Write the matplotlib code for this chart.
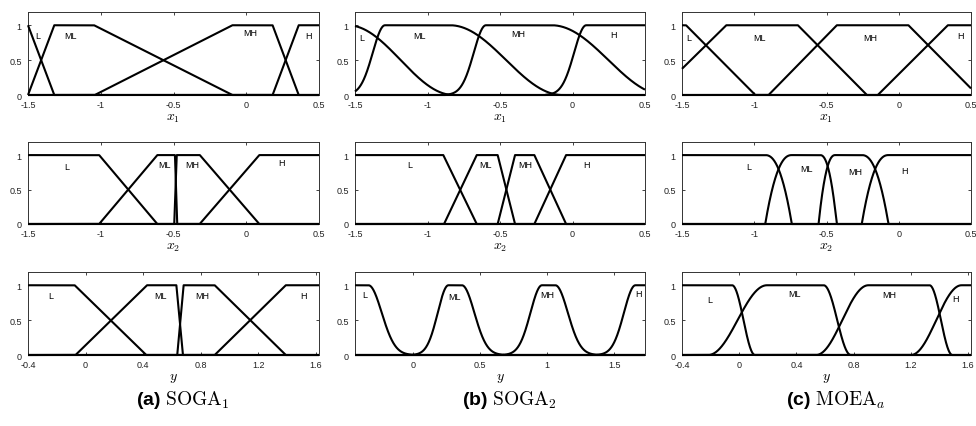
import numpy as np
import matplotlib
matplotlib.use("Agg")
import matplotlib.pyplot as plt

plt.rcParams["mathtext.fontset"] = "cm"
plt.rcParams["font.family"] = ["Liberation Sans", "DejaVu Sans"]

# Linguistic terms of every fuzzy partition
terms = ["L", "ML", "MH", "H"]

# Membership function breakpoints (a, b, c, d)
soga1_x1 = [(-10, -9, -1.5, -1.32), (-1.5, -1.32, -1.046, -0.096),
            (-1.041, -0.096, 0.181, 0.36), (0.181, 0.36, 9, 10)]
soga1_x2 = [(-10, -9, -1.011, -0.612), (-1.011, -0.612, -0.49, -0.475),
            (-0.495, -0.478, -0.319, 0.089), (-0.32, 0.089, 9, 10)]
soga1_y = [(-10, -9, -0.076, 0.42), (-0.07, 0.426, 0.63, 0.675),
           (0.636, 0.68, 0.896, 1.389), (0.896, 1.389, 9, 10)]

soga2_x1 = [(-10, -9, -1.55, -0.82), (-1.575, -1.293, -0.845, -0.07),
            (-0.877, -0.597, -0.144, 0.64), (-0.185, 0.095, 9, 10)]
soga2_x2 = [(-10, -9, -0.891, -0.661), (-0.886, -0.661, -0.516, -0.397),
            (-0.516, -0.397, -0.263, -0.045), (-0.263, -0.045, 9, 10)]
soga2_y = [(-10, -9, -0.33, 0.0), (0.0, 0.266, 0.366, 0.676),
           (0.676, 0.963, 1.062, 1.373), (1.373, 1.659, 9, 10)]

moea_x1 = [(-10, -9, -1.472, -0.993), (-1.684, -1.194, -0.698, -0.221),
           (-0.901, -0.429, 0.067, 0.545), (-0.145, 0.339, 9, 10)]
moea_x2 = [(-10, -9, -0.924, -0.740), (-0.924, -0.740, -0.544, -0.429),
           (-0.555, -0.440, -0.256, -0.071), (-0.256, -0.071, 9, 10)]
moea_y = [(-10, -9, -0.05, 0.11), (-0.217, 0.194, 0.59, 0.78),
          (0.537, 0.903, 1.33, 1.49), (1.2, 1.554, 9, 10)]

# Axis ticks
x_ticks = [-1.5, -1, -0.5, 0, 0.5]
x_ticklabels = ["-1.5", "-1", "-0.5", "0", "0.5"]
y04_ticks = [-0.4, 0, 0.4, 0.8, 1.2, 1.6]
y04_ticklabels = ["-0.4", "0", "0.4", "0.8", "1.2", "1.6"]
y05_ticks = [0, 0.5, 1, 1.5]
y05_ticklabels = ["0", "0.5", "1", "1.5"]
mu_ticks = [0, 0.5, 1]
mu_ticklabels = ["0", "0.5", "1"]

captions = [r"(a) $\mathrm{SOGA}_1$", r"(b) $\mathrm{SOGA}_2$", r"(c) $\mathrm{MOEA}_a$"]


def edge(t, kind):
    t = np.clip(t, 0, 1)
    if kind == "lin":
        return t
    if kind == "cos":
        return 0.5 * (1 - np.cos(np.pi * t))
    if kind == "gauss":
        return np.exp(-0.5 * ((1 - t) / 0.3) ** 2)
    return 1 - (1 - t) ** 2.3


def membership(x, p, rise, fall):
    a, b, c, d = p
    y = np.ones_like(x)
    y = np.where(x < b, edge((x - a) / (b - a), rise), y)
    y = np.where(x > c, edge((d - x) / (d - c), fall), y)
    y = np.where((x <= a) | (x >= d), 0.0, y)
    return y


# panel settings: (params, rise, fall, xlim, ticks, ticklabels, xlabel, label positions)
panels = [
    [(soga1_x1, "lin", "lin", (-1.5, 0.5), x_ticks, x_ticklabels, r"$x_1$",
      [(-1.436, 0.85), (-1.206, 0.85), (0.025, 0.89), (0.431, 0.85)]),
     (soga2_x1, "gauss", "cos", (-1.5, 0.5), x_ticks, x_ticklabels, r"$x_1$",
      [(-1.454, 0.82), (-1.056, 0.855), (-0.374, 0.88), (0.282, 0.865)]),
     (moea_x1, "lin", "lin", (-1.5, 0.5), x_ticks, x_ticklabels, r"$x_1$",
      [(-1.454, 0.82), (-0.963, 0.82), (-0.198, 0.82), (0.424, 0.855)])],
    [(soga1_x2, "lin", "lin", (-1.5, 0.5), x_ticks, x_ticklabels, r"$x_2$",
      [(-1.236, 0.84), (-0.564, 0.86), (-0.369, 0.86), (0.243, 0.89)]),
     (soga2_x2, "lin", "lin", (-1.5, 0.5), x_ticks, x_ticklabels, r"$x_2$",
      [(-1.125, 0.86), (-0.599, 0.86), (-0.328, 0.86), (0.098, 0.86)]),
     (moea_x2, "pow", "pow", (-1.5, 0.5), x_ticks, x_ticklabels, r"$x_2$",
      [(-1.039, 0.83), (-0.636, 0.80), (-0.302, 0.76), (0.039, 0.78)])],
    [(soga1_y, "lin", "lin", (-0.4, 1.62), y04_ticks, y04_ticklabels, r"$y$",
      [(-0.245, 0.85), (0.52, 0.85), (0.81, 0.85), (1.514, 0.85)]),
     (soga2_y, "gauss", "gauss", (-0.43, 1.73), y05_ticks, y05_ticklabels, r"$y$",
      [(-0.356, 0.865), (0.308, 0.845), (1.0, 0.865), (1.684, 0.88)]),
     (moea_y, "cos", "cos", (-0.4, 1.62), y04_ticks, y04_ticklabels, r"$y$",
      [(-0.206, 0.80), (0.389, 0.88), (1.051, 0.865), (1.509, 0.81)])],
]

W, H = 976, 427
fig = plt.figure(figsize=(W / 100, H / 100), dpi=100)

col_px = [(28, 319), (355, 645), (682, 971)]
row_px = [(13, 96), (143, 225), (273, 356)]

for r, row in enumerate(panels):
    for c, (params, rise, fall, xlim, ticks, ticklabels, xlabel, lab_pos) in enumerate(row):
        x0, x1 = col_px[c]
        top, bot = row_px[r]
        ax = fig.add_axes([x0 / W, 1 - bot / H, (x1 - x0) / W, (bot - top) / H])
        xs = np.linspace(xlim[0], xlim[1], 3000)
        for p in params:
            ax.plot(xs, membership(xs, p, rise, fall), color="black", lw=1.5,
                    clip_on=False, solid_capstyle="butt", zorder=3)
        for name, (lx, ly) in zip(terms, lab_pos):
            ax.text(lx, ly, name, fontsize=6.5, ha="center", va="center")
        ax.set_xlim(*xlim)
        ax.set_ylim(0, 1.19)
        ax.set_xticks(ticks)
        ax.set_xticklabels(ticklabels)
        ax.set_yticks(mu_ticks)
        ax.set_yticklabels(mu_ticklabels)
        ax.tick_params(direction="in", top=True, right=True, length=2.5, width=0.6,
                       labelsize=6.5, colors="#222222")
        ax.tick_params(axis="x", pad=3.5)
        ax.tick_params(axis="y", pad=4.5)
        for s in ax.spines.values():
            s.set_linewidth(0.7)
            s.set_color("#333333")
        ax.set_xlabel(xlabel, fontsize=10, labelpad=0.5)

for c, text in enumerate(captions):
    x0, x1 = col_px[c]
    fig.text((x0 + x1) / 2 / W + 0.01, 1 - 400 / H, text, fontsize=14,
             fontweight="bold", ha="center", va="center")

fig.savefig("out.png", dpi=100)
